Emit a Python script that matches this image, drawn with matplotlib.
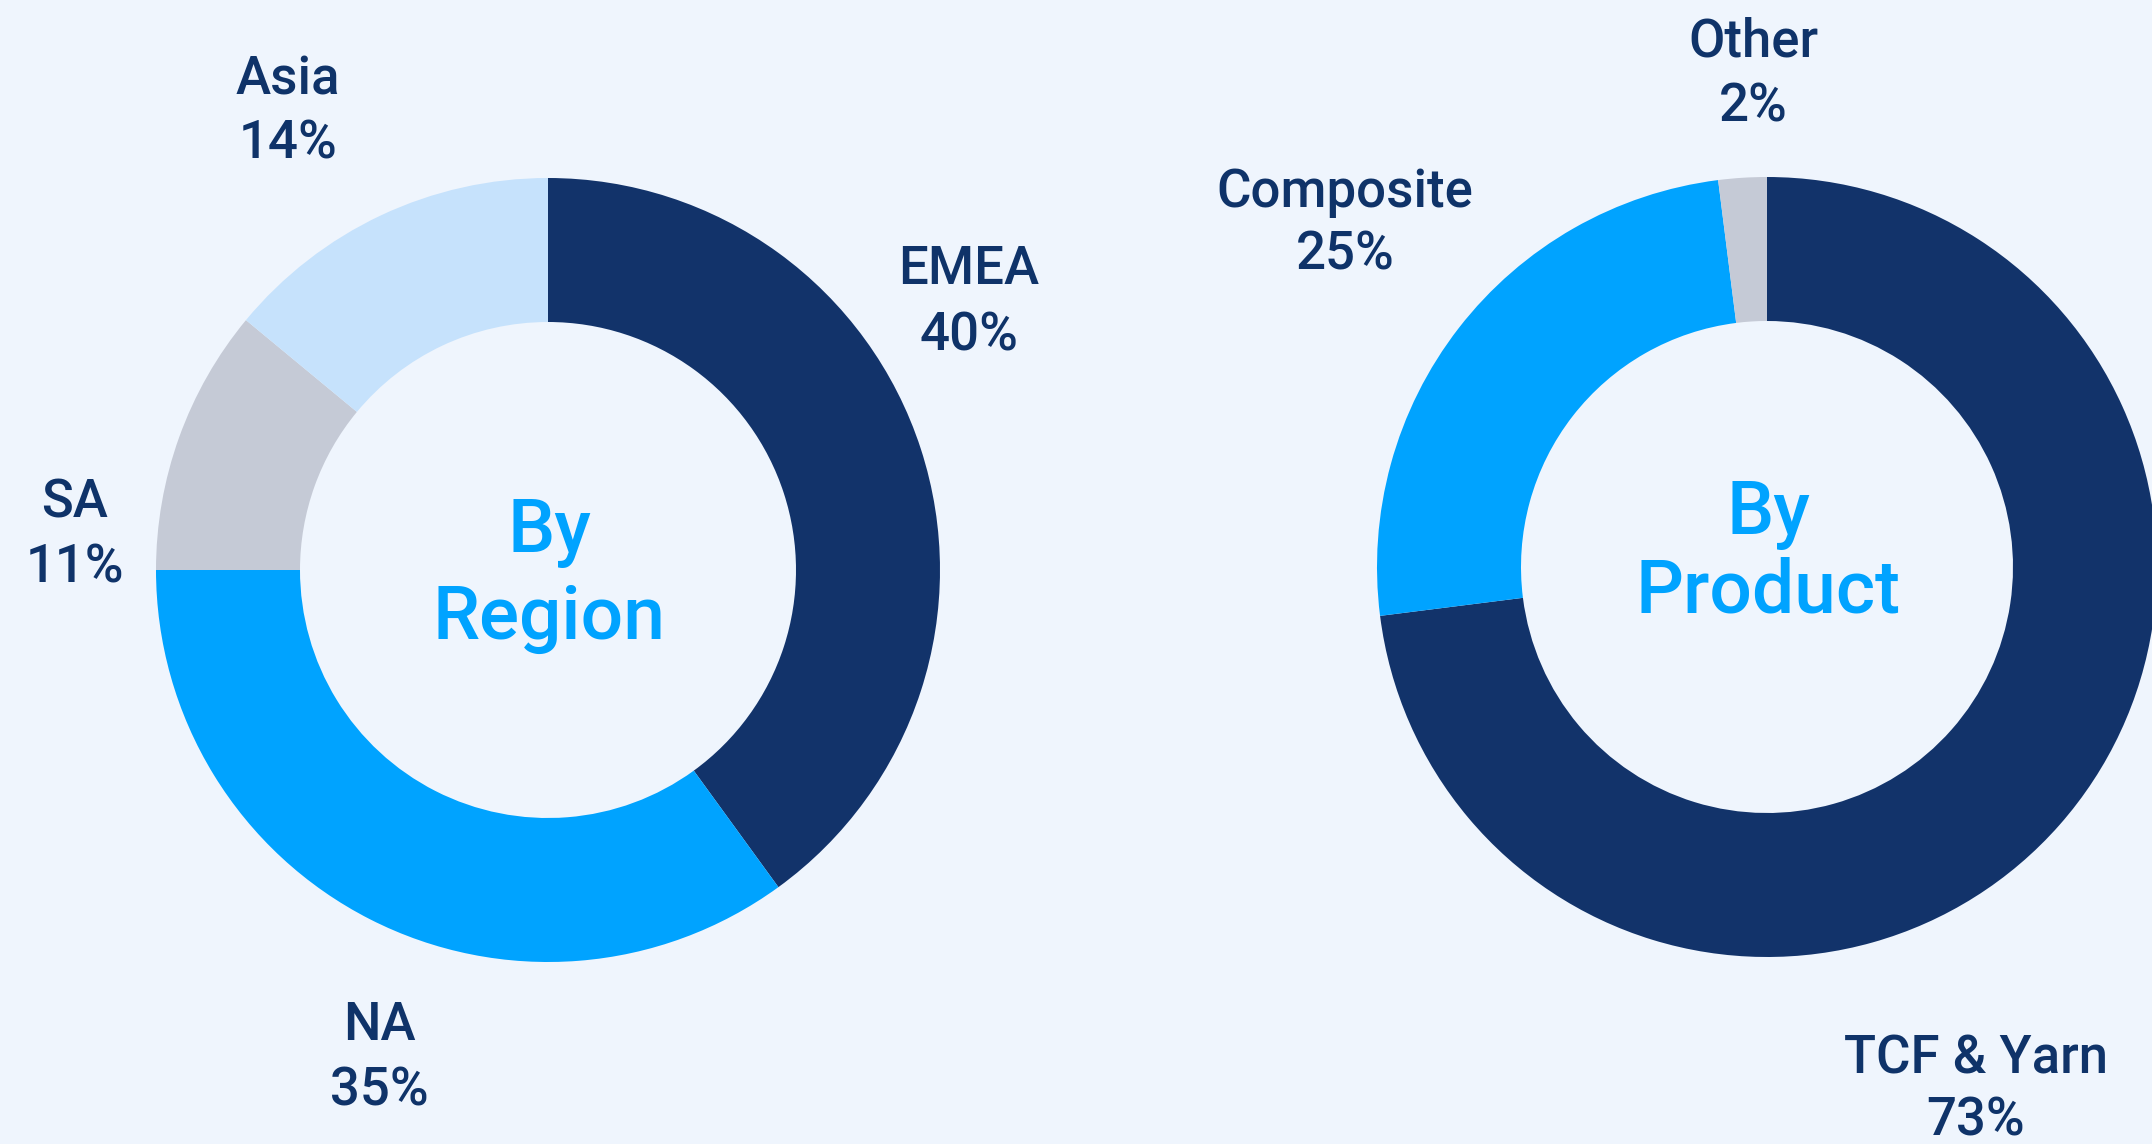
import matplotlib
matplotlib.use("Agg")
import matplotlib.pyplot as plt

# Data
region_labels = ["EMEA", "NA", "SA", "Asia"]
region_values = [40, 35, 11, 14]
region_colors = ["#12336A", "#00A3FF", "#C5CAD6", "#C6E2FC"]

product_labels = ["TCF & Yarn", "Composite", "Other"]
product_values = [73, 25, 2]
product_colors = ["#12336A", "#00A3FF", "#C5CAD6"]

BG = "#EFF5FD"
TXT = "#0F3369"
CENTER_TXT = "#00A3FF"

W, H = 2152, 1144
fig = plt.figure(figsize=(W / 100, H / 100), dpi=100, facecolor=BG)
ax = fig.add_axes([0, 0, 1, 1])
ax.set_facecolor(BG)

fam = ["Roboto", "DejaVu Sans"]
DY = 5  # vertical text offset (px, downward)

def Y(y):
    return H - y

# Left donut
ax.pie(region_values, colors=region_colors, startangle=90, counterclock=False,
       center=(548, Y(570)), radius=392,
       wedgeprops=dict(width=144, edgecolor="none"), frame=True)
# Right donut
ax.pie(product_values, colors=product_colors, startangle=90, counterclock=False,
       center=(1767, Y(567)), radius=390,
       wedgeprops=dict(width=144, edgecolor="none"), frame=True)
ax.set_xlim(0, W)
ax.set_ylim(0, H)
ax.set_aspect("equal")
ax.axis("off")

lab_fs = 38
def label(x, y1, y2, name, val):
    ax.text(x, Y(y1 + DY), name, ha="center", va="center", fontsize=lab_fs,
            color=TXT, family=fam, fontweight="medium")
    ax.text(x, Y(y2 + DY), f"{val}%", ha="center", va="center", fontsize=lab_fs,
            color=TXT, family=fam, fontweight="medium")

region_pos = {"EMEA": (969, 265, 331), "NA": (379, 1021, 1086),
              "SA": (75, 498, 563), "Asia": (288, 75, 139)}
for n, v in zip(region_labels, region_values):
    x, y1, y2 = region_pos[n]
    label(x, y1, y2, n, v)

product_pos = {"TCF & Yarn": (1976, 1054, 1116), "Composite": (1345, 187, 250),
               "Other": (1753, 37, 102)}
for n, v in zip(product_labels, product_values):
    x, y1, y2 = product_pos[n]
    label(x, y1, y2, n, v)

cfs = 54
ax.text(549, Y(528 + DY), "By", ha="center", va="center", fontsize=cfs,
        color=CENTER_TXT, family=fam, fontweight="medium")
ax.text(549, Y(613 + DY), "Region", ha="center", va="center", fontsize=cfs,
        color=CENTER_TXT, family=fam, fontweight="medium")
ax.text(1768, Y(509 + DY), "By", ha="center", va="center", fontsize=cfs,
        color=CENTER_TXT, family=fam, fontweight="medium")
ax.text(1768, Y(587 + DY), "Product", ha="center", va="center", fontsize=cfs,
        color=CENTER_TXT, family=fam, fontweight="medium")

fig.savefig("out.png", dpi=100, facecolor=BG)
